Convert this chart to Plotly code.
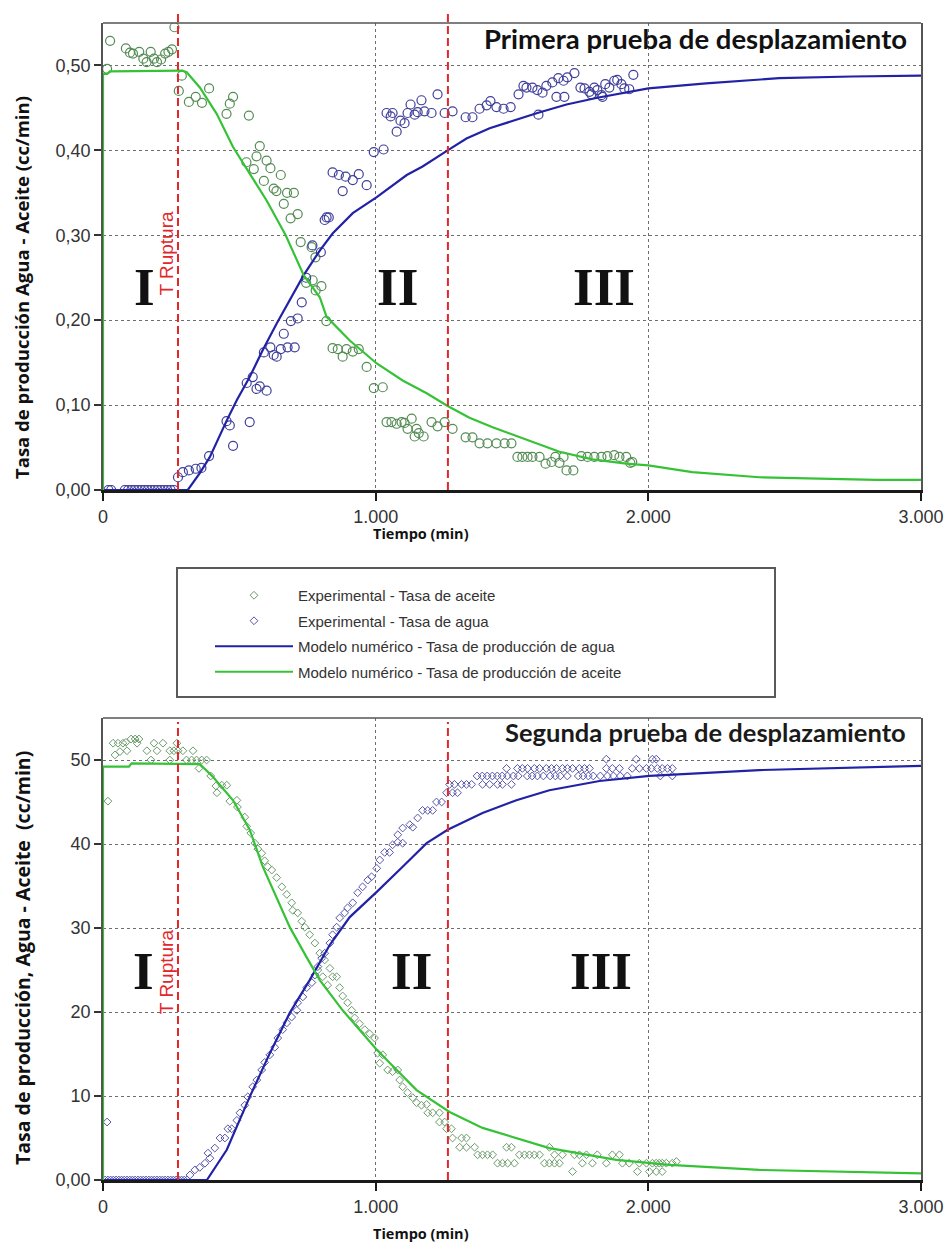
import plotly.graph_objects as go

# ---------------------------------------------------------------------------
# Datos: tiempo (min) y tasa de producción (cc/min)
# ---------------------------------------------------------------------------

# Primera prueba de desplazamiento - puntos experimentales
aceite_exp_1 = [
    (15, 0.496), (26, 0.529), (84, 0.520), (99, 0.515), (110, 0.514), (133, 0.516),
    (148, 0.508), (160, 0.504), (175, 0.516), (187, 0.508), (198, 0.504), (213, 0.507),
    (228, 0.514), (240, 0.516), (253, 0.519), (262, 0.545), (278, 0.470), (289, 0.488),
    (315, 0.457), (340, 0.463), (363, 0.456), (389, 0.473), (453, 0.443), (465, 0.455),
    (477, 0.463), (526, 0.386), (535, 0.441), (553, 0.378), (563, 0.393), (575, 0.405),
    (590, 0.364), (600, 0.388), (614, 0.379), (626, 0.355), (636, 0.352), (652, 0.371),
    (663, 0.337), (675, 0.350), (688, 0.320), (700, 0.350), (714, 0.325), (725, 0.292),
    (745, 0.244), (765, 0.286), (769, 0.247), (779, 0.274), (780, 0.235), (801, 0.240),
    (819, 0.199), (842, 0.167), (861, 0.166), (879, 0.157), (893, 0.166), (916, 0.163),
    (938, 0.166), (967, 0.145), (993, 0.120), (1026, 0.121), (1040, 0.080), (1058, 0.080),
    (1077, 0.078), (1095, 0.080), (1106, 0.079), (1117, 0.072), (1132, 0.084), (1143, 0.063),
    (1150, 0.072), (1158, 0.067), (1176, 0.063), (1205, 0.080), (1227, 0.075), (1253, 0.080),
    (1282, 0.072), (1330, 0.062), (1355, 0.062), (1381, 0.055), (1410, 0.055), (1443, 0.055),
    (1473, 0.055), (1498, 0.055), (1520, 0.039), (1538, 0.039), (1557, 0.039), (1575, 0.039),
    (1601, 0.039), (1623, 0.031), (1645, 0.033), (1659, 0.039), (1674, 0.032), (1689, 0.039),
    (1700, 0.023), (1725, 0.023), (1754, 0.040), (1777, 0.039), (1802, 0.039), (1828, 0.039),
    (1850, 0.040), (1875, 0.041), (1894, 0.039), (1919, 0.039), (1934, 0.032), (1941, 0.033),
]

agua_exp_1 = [
    (20, 0.0), (30, 0.0), (80, 0.0), (92, 0.0), (104, 0.0), (116, 0.0), (128, 0.0),
    (140, 0.0), (152, 0.0), (164, 0.0), (176, 0.0), (188, 0.0), (200, 0.0), (212, 0.0),
    (224, 0.0), (236, 0.0), (248, 0.0), (260, 0.0),
    (275, 0.015), (293, 0.021), (315, 0.023), (340, 0.025), (361, 0.026), (389, 0.040),
    (453, 0.081), (465, 0.076), (477, 0.052), (527, 0.126), (538, 0.080), (549, 0.133),
    (563, 0.119), (575, 0.122), (590, 0.162), (600, 0.117), (614, 0.168), (626, 0.159),
    (637, 0.157), (652, 0.166), (663, 0.184), (677, 0.168), (689, 0.199), (703, 0.168),
    (714, 0.202), (729, 0.221), (745, 0.250), (768, 0.288), (799, 0.280), (813, 0.318),
    (820, 0.321), (828, 0.321), (842, 0.374), (865, 0.371), (879, 0.352), (890, 0.369),
    (916, 0.365), (938, 0.372), (967, 0.359), (993, 0.398), (1029, 0.401), (1040, 0.444),
    (1055, 0.440), (1062, 0.444), (1077, 0.422), (1091, 0.435), (1106, 0.432), (1117, 0.444),
    (1128, 0.454), (1143, 0.442), (1154, 0.445), (1168, 0.459), (1179, 0.446), (1205, 0.444),
    (1227, 0.466), (1253, 0.444), (1282, 0.446), (1330, 0.439), (1355, 0.439), (1381, 0.449),
    (1407, 0.453), (1421, 0.458), (1443, 0.451), (1469, 0.449), (1495, 0.451), (1524, 0.466),
    (1542, 0.476), (1553, 0.474), (1575, 0.474), (1593, 0.471), (1597, 0.442), (1612, 0.468),
    (1626, 0.476), (1648, 0.480), (1663, 0.463), (1670, 0.485), (1689, 0.482), (1692, 0.463),
    (1703, 0.486), (1729, 0.491), (1751, 0.474), (1766, 0.473), (1784, 0.469), (1791, 0.466),
    (1802, 0.474), (1813, 0.471), (1828, 0.465), (1832, 0.463), (1842, 0.478), (1857, 0.474),
    (1875, 0.482), (1886, 0.483), (1901, 0.478), (1912, 0.473), (1930, 0.472), (1945, 0.489),
]

# Primera prueba - modelo numérico
modelo_agua_1_t = [0, 300, 311, 355, 392, 454, 491, 538, 586, 637, 685, 736, 795, 842, 916,
                   1004, 1114, 1172, 1264, 1333, 1418, 1502, 1593, 1700, 1813, 2000, 2212,
                   2480, 2747, 3000]
modelo_agua_1_q = [0, 0, 0, 0.020, 0.039, 0.082, 0.106, 0.133, 0.165, 0.196, 0.224, 0.253,
                   0.282, 0.302, 0.326, 0.345, 0.371, 0.381, 0.400, 0.414, 0.426, 0.435,
                   0.444, 0.454, 0.462, 0.473, 0.479, 0.485, 0.487, 0.488]
modelo_aceite_1_t = [0, 0, 15, 25, 290, 307, 355, 417, 477, 538, 600, 670, 736, 795, 820,
                     905, 1004, 1099, 1187, 1264, 1344, 1429, 1553, 1674, 1795, 1919, 2000,
                     2161, 2407, 2652, 2835, 3000]
modelo_aceite_1_q = [0, 0.490, 0.490, 0.493, 0.494, 0.492, 0.474, 0.443, 0.404, 0.373, 0.341,
                     0.300, 0.253, 0.227, 0.204, 0.176, 0.149, 0.129, 0.114, 0.099, 0.085,
                     0.074, 0.059, 0.045, 0.036, 0.031, 0.029, 0.021, 0.015, 0.013, 0.012,
                     0.012]

# Segunda prueba de desplazamiento - puntos experimentales
aceite_exp_2 = [
    (18, 45.1), (37, 52.0), (44, 50.6), (55, 52.0), (62, 51.0), (73, 52.0), (84, 52.1),
    (88, 51.1), (103, 52.5), (118, 52.5), (125, 52.0), (132, 52.5), (161, 51.1), (176, 50.0),
    (187, 52.0), (198, 51.1), (220, 52.0), (245, 51.1), (245, 50.0), (260, 51.1), (271, 52.0),
    (275, 51.1), (293, 51.1), (306, 50.0), (325, 50.0), (330, 51.1), (343, 50.0), (352, 49.0),
    (362, 50.0), (380, 50.0), (395, 48.1), (414, 46.9), (418, 46.1), (436, 47.0), (454, 47.0),
    (465, 45.1), (491, 45.2), (493, 44.4), (520, 43.2), (527, 42.1), (542, 41.3), (557, 40.1),
    (568, 39.4), (582, 38.9), (593, 38.0), (604, 37.3), (619, 36.9), (637, 36.0), (656, 34.9),
    (674, 34.0), (692, 33.0), (696, 32.1), (714, 31.8), (729, 30.8), (740, 30.1), (758, 29.2),
    (777, 28.2), (788, 25.0), (795, 27.0), (806, 24.2), (813, 26.2), (824, 23.2), (832, 25.2),
    (842, 24.2), (857, 24.2), (868, 22.9), (879, 21.9), (897, 21.1), (912, 20.2), (923, 19.3),
    (941, 18.6), (960, 17.9), (978, 17.4), (996, 16.9), (1007, 15.1), (1015, 13.9), (1026, 14.9),
    (1044, 13.1), (1062, 12.9), (1081, 13.1), (1088, 11.9), (1099, 11.1), (1117, 10.4),
    (1136, 9.8), (1150, 9.2), (1168, 8.9), (1187, 9.0), (1191, 8.0), (1209, 8.0), (1234, 8.0),
    (1234, 6.9), (1253, 6.9), (1260, 6.1), (1278, 6.1), (1282, 5.0), (1308, 3.9), (1315, 5.0),
    (1333, 5.0), (1333, 3.9), (1363, 3.9), (1374, 3.0), (1392, 3.0), (1410, 3.0), (1429, 3.0),
    (1447, 2.0), (1465, 2.0), (1480, 3.9), (1484, 2.0), (1498, 3.9), (1509, 2.0), (1527, 3.0),
    (1546, 3.0), (1564, 3.0), (1582, 3.0), (1601, 3.0), (1619, 2.0), (1637, 2.0), (1637, 3.9),
    (1656, 2.0), (1656, 3.0), (1674, 2.0), (1685, 3.0), (1722, 1.0), (1729, 3.0), (1747, 3.0),
    (1758, 2.0), (1773, 3.0), (1795, 2.0), (1813, 3.0), (1846, 2.0), (1868, 3.0), (1894, 3.0),
    (1905, 2.0), (1930, 2.0), (1960, 1.0), (1967, 2.0), (1993, 2.0), (2004, 1.0), (2015, 2.0),
    (2029, 2.0), (2029, 1.0), (2040, 2.0), (2051, 2.0), (2051, 1.0), (2066, 2.0), (2088, 2.0),
    (2103, 2.2),
]

agua_exp_2 = [
    (8, 0.0), (15, 6.9), (18, 0.0), (28, 0.0), (38, 0.0), (48, 0.0), (58, 0.0), (68, 0.0),
    (78, 0.0), (88, 0.0), (98, 0.0), (108, 0.0), (118, 0.0), (128, 0.0), (138, 0.0),
    (148, 0.0), (158, 0.0), (168, 0.0), (178, 0.0), (188, 0.0), (198, 0.0), (208, 0.0),
    (218, 0.0), (228, 0.0), (238, 0.0), (248, 0.0), (258, 0.0), (268, 0.0), (278, 0.0),
    (288, 0.0), (298, 0.0), (308, 0.0),
    (319, 0.6), (337, 1.2), (355, 1.5), (374, 2.0), (385, 3.2), (392, 2.6), (410, 3.8),
    (429, 5.0), (447, 5.0), (458, 6.1), (472, 6.1), (491, 7.1), (502, 8.0), (520, 8.9),
    (531, 9.9), (549, 11.1), (564, 11.9), (582, 13.1), (593, 14.0), (612, 14.9), (630, 15.8),
    (641, 16.9), (659, 17.9), (674, 18.7), (692, 19.4), (711, 20.2), (714, 21.1), (733, 21.8),
    (747, 22.9), (766, 23.5), (777, 24.4), (788, 25.4), (802, 26.4), (813, 27.0), (832, 28.2),
    (842, 29.2), (857, 30.1), (868, 31.2), (886, 31.8), (897, 32.4), (916, 33.0), (934, 34.2),
    (952, 34.9), (971, 35.7), (985, 36.1), (1004, 37.1), (1015, 38.1), (1033, 39.0),
    (1051, 39.0), (1062, 39.9), (1081, 40.2), (1081, 41.1), (1099, 40.1), (1099, 41.9),
    (1125, 42.3), (1136, 42.0), (1154, 43.1), (1172, 44.0), (1191, 44.0), (1209, 44.0),
    (1223, 45.0), (1242, 45.0), (1260, 46.1), (1271, 47.1), (1282, 46.1), (1289, 47.1),
    (1300, 46.1), (1315, 47.1), (1333, 47.1), (1352, 47.1), (1372, 48.1), (1391, 48.1),
    (1392, 47.1), (1409, 48.1), (1418, 47.1), (1428, 48.1), (1446, 48.1), (1447, 47.1),
    (1464, 48.1), (1465, 47.1), (1480, 49.0), (1483, 48.1), (1498, 47.1), (1505, 48.1),
    (1520, 49.0), (1523, 48.1), (1538, 49.0), (1556, 48.1), (1557, 49.0), (1574, 48.1),
    (1582, 49.0), (1593, 48.1), (1601, 49.0), (1615, 48.1), (1626, 49.0), (1640, 48.1),
    (1645, 49.0), (1659, 48.1), (1663, 49.0), (1677, 48.1), (1685, 49.0), (1703, 48.1),
    (1703, 49.0), (1722, 49.0), (1743, 48.1), (1747, 49.0), (1761, 48.1), (1766, 49.0),
    (1780, 48.1), (1784, 49.0), (1798, 48.1), (1824, 48.1), (1846, 49.0), (1846, 50.1),
    (1850, 48.1), (1868, 49.0), (1872, 48.1), (1894, 49.0), (1897, 48.1), (1923, 48.1),
    (1941, 49.0), (1956, 50.1), (1967, 49.0), (1993, 49.0), (2011, 49.0), (2015, 50.1),
    (2029, 50.1), (2033, 49.0), (2044, 48.1), (2051, 49.0), (2070, 49.0), (2088, 49.0),
    (2088, 48.1),
]

# Segunda prueba - modelo numérico
modelo_agua_2_t = [0, 374, 381, 454, 538, 612, 685, 758, 832, 905, 1004, 1099, 1187, 1264,
                   1392, 1516, 1637, 1821, 2004, 2407, 2652, 3000]
modelo_agua_2_q = [0, 0, 0, 3.6, 9.9, 15.1, 19.9, 23.8, 28.0, 31.3, 34.3, 37.3, 40.1, 41.7,
                   43.7, 45.2, 46.4, 47.5, 48.1, 48.8, 49.0, 49.3]
modelo_aceite_2_t = [0, 0, 95, 105, 355, 403, 477, 538, 586, 637, 685, 747, 795, 879, 1004,
                     1150, 1271, 1392, 1637, 1883, 2077, 2407, 2652, 3000]
modelo_aceite_2_q = [0, 49.2, 49.2, 49.6, 49.5, 48.0, 45.2, 41.7, 37.3, 33.7, 30.1, 26.5,
                     23.8, 20.2, 15.5, 10.7, 8.1, 6.2, 3.8, 2.4, 1.8, 1.2, 1.0, 0.8]

# Tiempos que separan las etapas I, II y III
t_ruptura = 275
t_etapa_III = 1265

x_ticks = [0, 1000, 2000, 3000]
y1_ticks = [0.0, 0.1, 0.2, 0.3, 0.4, 0.5]
y2_ticks = [0, 10, 20, 30, 40, 50]
y2_ticktext = ["0,00", "10", "20", "30", "40", "50"]

# ---------------------------------------------------------------------------
# Estilos
# ---------------------------------------------------------------------------
W, H = 950, 1243
C_AGUA_LINEA = "#2222a6"
C_ACEITE_LINEA = "#36c236"
C_AGUA_PUNTO = "#3f3f9a"
C_ACEITE_PUNTO = "#548c54"
C_ROJO = "#e3262a"
FONT_TXT = "Liberation Sans, Arial, sans-serif"
FONT_TITLE = "Lato, Open Sans, sans-serif"
FONT_AXIS = "Open Sans, Lato, sans-serif"
FONT_ROMAN = "Liberation Serif, Times New Roman, serif"


def fx(p):
    """Horizontal pixel -> paper fraction."""
    return p / W


def fy(p):
    """Vertical pixel (from top) -> paper fraction."""
    return 1 - p / H


def unzip(pares):
    return [p[0] for p in pares], [p[1] for p in pares]


X_DOM = [fx(103), fx(921)]
Y1_DOM = [fy(490), fy(23)]
Y2_DOM = [fy(1180), fy(718)]

fig = go.Figure()

# ---- Segunda prueba (estas trazas alimentan la leyenda) ----
t, q = unzip(aceite_exp_2)
fig.add_trace(go.Scatter(
    x=t, y=q, mode="markers", xaxis="x2", yaxis="y2",
    name="Experimental - Tasa de aceite", legendgroup="aceite_exp",
    marker=dict(symbol="diamond-open", size=6, color="#6a9a6a", line=dict(width=1))))
t, q = unzip(agua_exp_2)
fig.add_trace(go.Scatter(
    x=t, y=q, mode="markers", xaxis="x2", yaxis="y2",
    name="Experimental - Tasa de agua", legendgroup="agua_exp",
    marker=dict(symbol="diamond-open", size=6, color="#5555aa", line=dict(width=1))))
fig.add_trace(go.Scatter(
    x=modelo_agua_2_t, y=modelo_agua_2_q, mode="lines", xaxis="x2", yaxis="y2",
    name="Modelo numérico - Tasa de producción de agua", legendgroup="agua_mod",
    line=dict(color=C_AGUA_LINEA, width=2.2)))
fig.add_trace(go.Scatter(
    x=modelo_aceite_2_t, y=modelo_aceite_2_q, mode="lines", xaxis="x2", yaxis="y2",
    name="Modelo numérico - Tasa de producción de aceite", legendgroup="aceite_mod",
    line=dict(color=C_ACEITE_LINEA, width=2.2)))

# ---- Primera prueba ----
t, q = unzip(aceite_exp_1)
fig.add_trace(go.Scatter(
    x=t, y=q, mode="markers", xaxis="x", yaxis="y", showlegend=False,
    name="Experimental - Tasa de aceite", legendgroup="aceite_exp",
    marker=dict(symbol="circle-open", size=9, color=C_ACEITE_PUNTO, line=dict(width=1.2))))
t, q = unzip(agua_exp_1)
fig.add_trace(go.Scatter(
    x=t, y=q, mode="markers", xaxis="x", yaxis="y", showlegend=False,
    name="Experimental - Tasa de agua", legendgroup="agua_exp",
    marker=dict(symbol="circle-open", size=9, color=C_AGUA_PUNTO, line=dict(width=1.2))))
fig.add_trace(go.Scatter(
    x=modelo_agua_1_t, y=modelo_agua_1_q, mode="lines", xaxis="x", yaxis="y",
    showlegend=False, name="Modelo numérico - Tasa de producción de agua",
    legendgroup="agua_mod", line=dict(color=C_AGUA_LINEA, width=2.2)))
fig.add_trace(go.Scatter(
    x=modelo_aceite_1_t, y=modelo_aceite_1_q, mode="lines", xaxis="x", yaxis="y",
    showlegend=False, name="Modelo numérico - Tasa de producción de aceite",
    legendgroup="aceite_mod", line=dict(color=C_ACEITE_LINEA, width=2.2)))

# ---- Ejes ----
tick_font = dict(family=FONT_TXT, size=18, color="#333333")
x_common = dict(
    range=[0, 3000], domain=X_DOM, tickvals=x_ticks, tickformat=",d",
    showgrid=True, gridcolor="#6e6e6e", gridwidth=1, griddash="dot",
    showline=True, linecolor="#1a1a1a", linewidth=2.5, mirror=False,
    ticks="outside", ticklen=8, tickwidth=2, tickcolor="#1a1a1a",
    tickfont=tick_font, zeroline=False, automargin=False, ticklabelstandoff=1,
)
y_common = dict(
    showgrid=True, gridcolor="#6e6e6e", gridwidth=1, griddash="dot",
    showline=True, linecolor="#555555", linewidth=1.5, mirror=True,
    ticks="outside", ticklen=7, tickwidth=1.5, tickcolor="#333333",
    tickfont=tick_font, zeroline=False, automargin=False, layer="below traces",
)

fig.update_layout(
    xaxis=dict(anchor="y", **x_common),
    yaxis=dict(anchor="x", domain=Y1_DOM, range=[0, 0.55], tickvals=y1_ticks,
               tickformat=".2f", **y_common),
    xaxis2=dict(anchor="y2", **x_common),
    yaxis2=dict(anchor="x2", domain=Y2_DOM, range=[0, 55], tickvals=y2_ticks,
                ticktext=y2_ticktext, **y_common),
)

# ---- Marcos superiores y líneas de ruptura ----
shapes = []
for xr, yr in (("x", "y"), ("x2", "y2")):
    shapes.append(dict(type="line", xref=f"{xr} domain", yref=f"{yr} domain",
                       x0=0, x1=1, y0=1, y1=1, line=dict(color="#555555", width=1.5)))

for t_lim in (t_ruptura, t_etapa_III):
    shapes.append(dict(type="line", xref="x", yref="paper", x0=t_lim, x1=t_lim,
                       y0=fy(490), y1=fy(10), line=dict(color=C_ROJO, width=2, dash="8px,4px")))
    shapes.append(dict(type="line", xref="x2", yref="paper", x0=t_lim, x1=t_lim,
                       y0=fy(1180), y1=fy(722), line=dict(color=C_ROJO, width=2, dash="8px,4px")))

# Recuadro de la leyenda
shapes.append(dict(type="rect", xref="paper", yref="paper", x0=fx(177), x1=fx(775),
                   y0=fy(697), y1=fy(568), line=dict(color="#5a5a5a", width=2),
                   fillcolor="rgba(0,0,0,0)", layer="below"))

fig.update_layout(shapes=shapes)

# ---- Textos ----
ann = []
roman_font = dict(family=FONT_ROMAN, size=53, color="#111111")
for txt, tx, xr, yr, ty in (("I", 154, "x", "y", 0.239), ("II", 1081, "x", "y", 0.239),
                            ("III", 1839, "x", "y", 0.239),
                            ("I", 150, "x2", "y2", 24.9), ("II", 1132, "x2", "y2", 24.9),
                            ("III", 1828, "x2", "y2", 24.9)):
    ann.append(dict(text=f"<b>{txt}</b>", x=tx, y=ty, xref=xr, yref=yr, showarrow=False,
                    font=roman_font, xanchor="center", yanchor="middle"))

for xr, yr, ty in (("x", "y", 0.279), ("x2", "y2", 24.8)):
    ann.append(dict(text="T Ruptura", x=t_ruptura, y=ty, xref=xr, yref=yr, showarrow=False,
                    textangle=-90, xanchor="right", yanchor="middle", xshift=1,
                    font=dict(family=FONT_TXT, size=19, color=C_ROJO)))

ann.append(dict(text="<b>Primera prueba de desplazamiento</b>", x=fx(909), y=fy(38),
                xref="paper", yref="paper", xanchor="right", yanchor="middle",
                showarrow=False, font=dict(family=FONT_TITLE, size=27.5, color="#111111")))
ann.append(dict(text="<b>Segunda prueba de desplazamiento</b>", x=fx(908), y=fy(732),
                xref="paper", yref="paper", xanchor="right", yanchor="middle",
                showarrow=False, font=dict(family=FONT_TITLE, size=25.5, color="#1a1a1a")))

ann.append(dict(text="<b>Tasa de producción Agua - Aceite (cc/min)</b>", x=fx(21), y=fy(288),
                xref="paper", yref="paper", textangle=-90, showarrow=False,
                xanchor="center", yanchor="middle",
                font=dict(family=FONT_AXIS, size=18.5, color="#111111")))
ann.append(dict(text="<b>Tasa de producción, Agua - Aceite  (cc/min)</b>", x=fx(22), y=fy(958),
                xref="paper", yref="paper", textangle=-90, showarrow=False,
                xanchor="center", yanchor="middle",
                font=dict(family=FONT_AXIS, size=19.5, color="#111111")))

for ty in (533, 1233):
    ann.append(dict(text="<b>Tiempo (min)</b>", x=fx(421), y=fy(ty), xref="paper",
                    yref="paper", showarrow=False, xanchor="center", yanchor="middle",
                    font=dict(family=FONT_AXIS, size=14.5, color="#111111")))

fig.update_layout(annotations=ann)

fig.update_layout(
    width=W, height=H, margin=dict(l=0, r=0, t=0, b=0),
    paper_bgcolor="white", plot_bgcolor="white", separators=",.",
    showlegend=True,
    legend=dict(x=fx(210), y=fy(579), xanchor="left", yanchor="top",
                bgcolor="rgba(0,0,0,0)", borderwidth=0, itemwidth=78,
                traceorder="grouped", tracegroupgap=3,
                font=dict(family="Liberation Sans Narrow, Arial Narrow, Liberation Sans, sans-serif",
                          size=15, color="#333333")),
)

fig.write_html("out.html")
